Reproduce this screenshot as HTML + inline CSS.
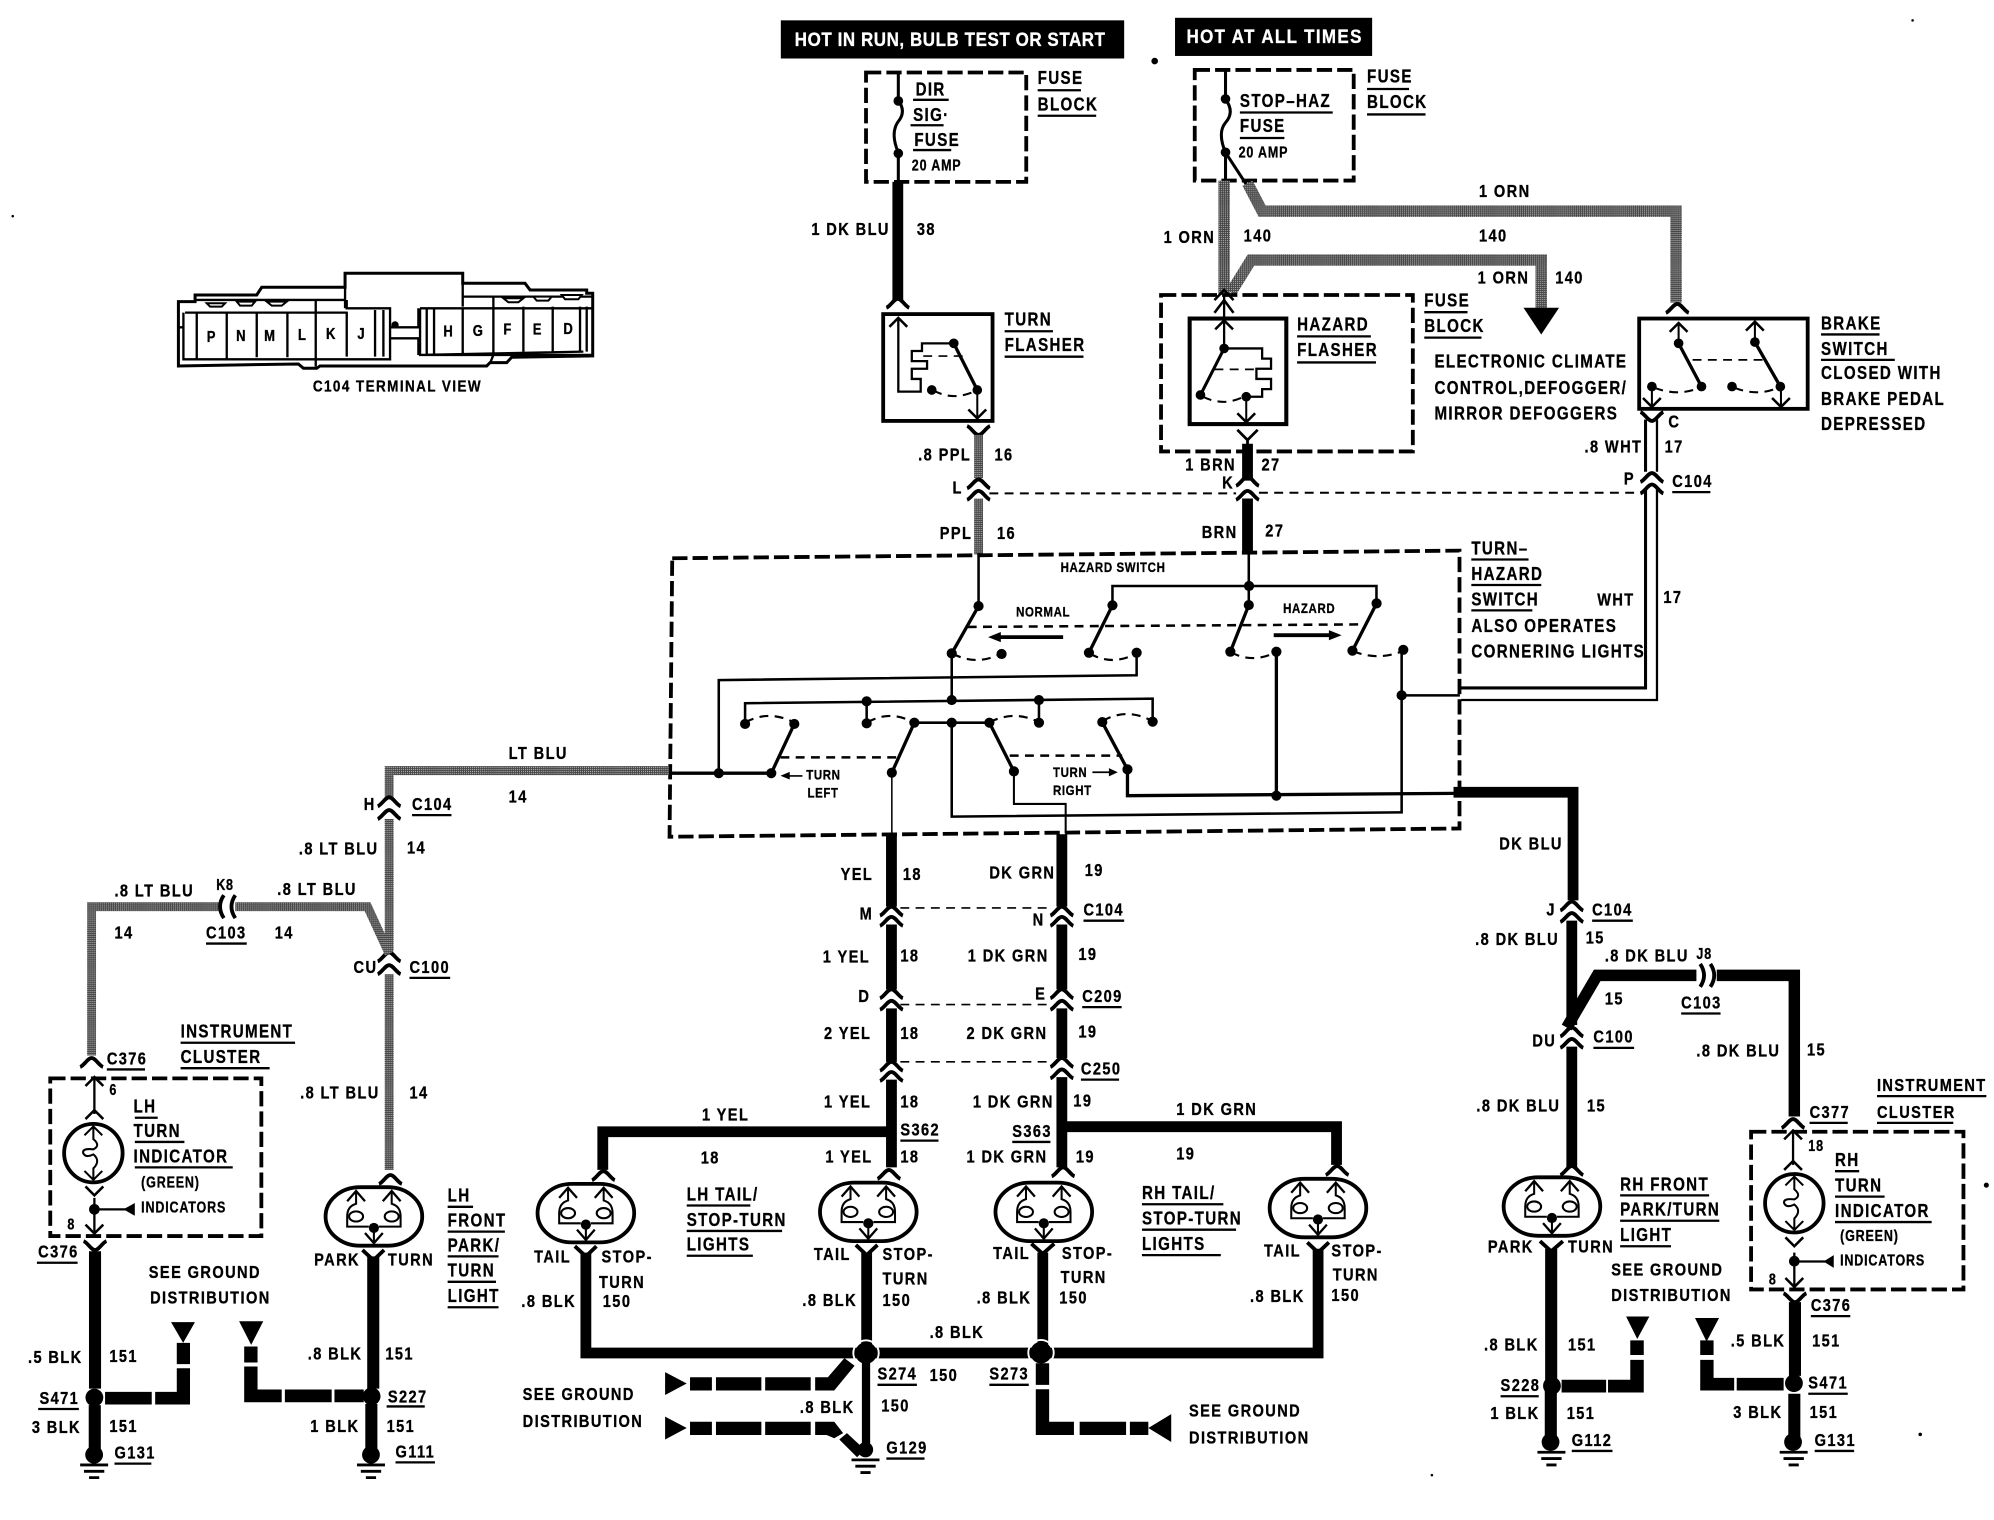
<!DOCTYPE html>
<html><head><meta charset="utf-8"><title>Turn and hazard wiring diagram</title>
<style>
html,body{margin:0;padding:0;background:#fff}
svg{display:block}
text{font-family:"Liberation Sans",sans-serif;font-weight:700;font-size:14.5px;letter-spacing:1.3px;fill:#000;stroke:#000;stroke-width:.25px;transform-box:fill-box;transform-origin:0 100%;transform:scaleX(.82)}
text.s{font-size:13.5px;transform:scaleX(.85)}
text.t{font-size:12px;letter-spacing:.8px}
text.n{font-size:11px;letter-spacing:.6px}
text.h{font-size:15px;letter-spacing:.5px;fill:#fff;stroke:#fff;transform:scaleX(.89)}
text.p{font-size:46px;letter-spacing:0;stroke-width:1px;transform:scaleX(.85)}
.th{fill:none;stroke:#000;stroke-width:1.8}
.b{fill:none;stroke:#000;stroke-width:2.4}
.d{fill:none;stroke:#000;stroke-width:2;stroke-dasharray:7 5}
.bx{fill:none;stroke:#000;stroke-width:3;stroke-dasharray:12 4}
.w{fill:none;stroke:#000;stroke-width:8.5}
.gw{fill:none;stroke:url(#g);stroke-width:7}
</style></head><body>
<svg xmlns="http://www.w3.org/2000/svg" width="1994" height="1520" viewBox="0 0 1568 1195.3">
<defs>
<pattern id="g" width="1.6" height="1.6" patternUnits="userSpaceOnUse"><rect width="1.6" height="1.6" fill="#444"/><rect width=".8" height=".8" fill="#bbb"/></pattern>
<path id="c" d="M-9,4C-6,3-3,-3 0,-3C3,-3 6,3 9,4" fill="none" stroke="#000" stroke-width="3"/>
<path id="u" d="M-9,-4C-6,-3-3,3 0,3C3,3 6,-3 9,-4" fill="none" stroke="#000" stroke-width="3"/>
<path id="au" d="M-7,7L0,0L7,7" fill="none" stroke="#000" stroke-width="2"/>
<path id="ad" d="M-7,-7L0,0L7,-7" fill="none" stroke="#000" stroke-width="2"/>
<g id="gnd"><path d="M-11,0H11M-8,5H8M-4,10H4" stroke="#000" stroke-width="2.2" fill="none"/></g>
<g id="lamp">
<rect x="-38" y="-23" width="76" height="46" rx="27" ry="23" fill="#fff" stroke="#000" stroke-width="3"/>
<path d="M-14,-19V-10Q-21,-8-21,0V8H-4M14,-19V-10Q21,-8 21,0V8H4M0,8V21" fill="none" stroke="#000" stroke-width="1.6"/>
<path d="M-21,-12L-14,-20L-7,-12M21,-12L14,-20L7,-12M-7,13L0,21L7,13" fill="none" stroke="#000" stroke-width="1.8"/>
<ellipse cx="-14" cy="0" rx="5.5" ry="4" fill="#fff" stroke="#000" stroke-width="1.6"/>
<ellipse cx="14" cy="0" rx="5.5" ry="4" fill="#fff" stroke="#000" stroke-width="1.6"/>
<circle cx="0" cy="9" r="4" fill="#000"/>
</g>
<g id="bulb">
<circle r="23" fill="#fff" stroke="#000" stroke-width="3"/>
<path d="M0,-21V-11Q6,-6 0,-3Q-9,-4-8,0Q-6,4 0,1Q6,6 0,12V21M-7,-14L0,-21L7,-14M-7,14L0,21L7,14" fill="none" stroke="#000" stroke-width="1.6"/>
</g>
</defs>

<rect width="1568" height="1195.3" fill="#fff"/>

<!-- header -->
<rect x="614" y="16" width="270" height="30" fill="#000"/>
<rect x="924" y="14" width="155" height="30" fill="#000"/>
<text class="h" x="625" y="36">HOT IN RUN, BULB TEST OR START</text>
<text class="h" x="933" y="34" style="letter-spacing:1.2px">HOT AT ALL TIMES</text>
<circle cx="908" cy="48" r="2.6"/>
<circle cx="1504" cy="16" r="1"/><circle cx="10" cy="170" r="1"/><circle cx="1562" cy="932" r="2"/><circle cx="1510" cy="1128" r="1.4"/><circle cx="1126" cy="1160" r="1"/>

<!-- terminal view -->
<g transform="translate(118,188.7) scale(.2621)">
<path d="M85,378V185H135V165H320L335,142H585V100H938V130H1125L1140,150H1310V160H1328V348L1085,352L1070,368H1020L1010,378H510L500,385H460L445,372Z" fill="#fff" stroke="#000" stroke-width="9"/>
<path d="M135,180H585M585,100V205M938,100V200M940,170H1328M100,218V358H720V205H590V180M105,218H590M810,205V345H1328M810,205H1328M810,345L1300,335M140,218V355M230,218V355M320,215V352M412,215V352M497,180V380M590,215V350M675,210V350M700,210V350M720,262H805V205M720,295H805V345M830,205V345M852,205V345M938,205V345M1030,170V345M1120,200V335M1208,200V335M1290,200V335M1310,200V335M85,262H100M1020,370L1030,345" fill="none" stroke="#000" stroke-width="7"/>
<path d="M170,190H225L215,200H180ZM260,185H315L305,197H270ZM350,185H410L395,197H365ZM1060,175H1120L1105,187H1075ZM1150,170H1205L1195,182H1160ZM1235,165H1295L1285,178H1245Z" fill="#fff" stroke="#000" stroke-width="6"/>
<circle cx="735" cy="255" r="11"/>
<text class="p" x="170" y="306">P</text><text class="p" x="258" y="303">N</text><text class="p" x="342" y="303">M</text><text class="p" x="444" y="300">L</text><text class="p" x="528" y="297">K</text><text class="p" x="622" y="297">J</text><text class="p" x="880" y="290">H</text><text class="p" x="968" y="288">G</text><text class="p" x="1060" y="284">F</text><text class="p" x="1148" y="284">E</text><text class="p" x="1240" y="282">D</text>
</g>
<text class="s" style="font-size:12.5px" x="246" y="308">C104 TERMINAL VIEW</text>

<!-- fuse blocks -->
<rect class="bx" x="681" y="57" width="126" height="86"/>
<path class="b" d="M706.4,57V79Q713,88 706,96Q700,105 706.4,120V145"/>
<circle cx="706.4" cy="79.4" r="3.8"/><circle cx="706.4" cy="120.6" r="3.8"/>
<text x="720" y="75">DIR</text><text x="718" y="95">SIG·</text><text x="719" y="115">FUSE</text><text class="t" x="717" y="134">20 AMP</text>
<text x="816" y="66">FUSE</text><text x="816" y="87">BLOCK</text>
<rect class="bx" x="939.5" y="55" width="125" height="87"/>
<path class="b" d="M963.7,55V78Q971,88 964,96Q957,104 963.7,120V142M963.7,120L982,148"/>
<circle cx="963.7" cy="77.8" r="3.8"/><circle cx="963.7" cy="119.8" r="3.8"/>
<text x="975" y="84">STOP–HAZ</text><text x="975" y="104">FUSE</text><text class="t" x="974" y="124">20 AMP</text>
<text x="1075" y="65">FUSE</text><text x="1075" y="85">BLOCK</text>

<!-- top wires -->
<path class="w" d="M706,143V236"/>
<path class="gw" style="stroke-width:9" d="M962.6,142V232"/>
<path class="gw" style="stroke-width:9" d="M981,144L992.5,166H1318V238"/>
<path class="gw" style="stroke-width:9" d="M967.9,230L983.7,204.5H1212V244"/>
<path d="M1198,242H1226L1212,263Z"/>
<use href="#c" x="706" y="238"/><use href="#c" x="1319" y="242"/>
<text class="s" x="638" y="185">1 DK BLU</text><text class="s" x="721" y="185">38</text>
<text class="s" x="915" y="191">1 ORN</text><text class="s" x="978" y="190">140</text>
<text class="s" x="1163" y="155">1 ORN</text><text class="s" x="1163" y="190">140</text>
<text class="s" x="1162" y="223">1 ORN</text><text class="s" x="1223" y="223">140</text>

<!-- turn flasher -->
<rect x="694.5" y="247" width="86" height="84" fill="#fff" stroke="#000" stroke-width="3"/>
<path class="b" style="stroke-width:1.8" d="M706.4,250V308H724V298H717V290H729V284H717V276H725V270H750"/>
<use href="#au" x="706.4" y="250"/>
<path d="M750,270L768.5,306.7" stroke="#000" stroke-width="2.6"/>
<circle cx="750" cy="270" r="3.8"/><circle cx="768.5" cy="306.7" r="3.8"/><circle cx="732.7" cy="306.7" r="3.8"/>
<path class="d" style="stroke-width:1.6" d="M734,307Q750,316 768,307"/>
<path class="d" style="stroke-width:1.2" d="M726,280H758"/>
<path class="b" style="stroke-width:1.6" d="M768.5,307V328"/><use href="#ad" x="768.5" y="329"/>
<use href="#u" x="769.5" y="339"/>
<text x="790" y="256">TURN</text><text x="790" y="276">FLASHER</text>

<!-- hazard flasher -->
<rect class="bx" x="913" y="232" width="198" height="123"/>
<rect x="935.5" y="250.5" width="76" height="83" fill="#fff" stroke="#000" stroke-width="3.2"/>
<path class="b" style="stroke-width:1.8" d="M962.6,232V274H992.5V282H999.5V290H988V298H999.5V306H992.5V312H980"/>
<path d="M955,246L962.6,236L970,246M955,236L962.6,228L970,236" fill="none" stroke="#000" stroke-width="2"/>
<use href="#au" x="962.6" y="252"/>
<path d="M962.6,274L944,310.6" stroke="#000" stroke-width="2.4"/>
<circle cx="962.6" cy="274" r="3.8"/><circle cx="980" cy="312" r="3.8"/><circle cx="944" cy="310.6" r="3.8"/>
<path class="d" style="stroke-width:1.6" d="M946,312Q962,320 978,312"/>
<path class="d" style="stroke-width:1.4" d="M955,290.5H988"/>
<path class="b" style="stroke-width:1.6" d="M980,312V331"/><use href="#ad" x="980" y="332"/>
<path d="M973,338L981,346L989,338M981,346V352" fill="none" stroke="#000" stroke-width="2.2"/>
<text x="1020" y="260">HAZARD</text><text x="1020" y="280">FLASHER</text>
<text x="1120" y="241">FUSE</text><text x="1120" y="261">BLOCK</text>
<text x="1128" y="289">ELECTRONIC CLIMATE</text><text x="1128" y="310">CONTROL,DEFOGGER/</text><text x="1128" y="330">MIRROR DEFOGGERS</text>

<!-- brake switch -->
<rect x="1289" y="250.5" width="132.5" height="71" fill="#fff" stroke="#000" stroke-width="3"/>
<path class="b" style="stroke-width:1.6" d="M1320,254V270M1380,254V269M1400.5,304V319M1299,304V320"/>
<use href="#au" x="1320" y="254"/><use href="#au" x="1380" y="253"/><use href="#ad" x="1400.5" y="320"/><use href="#ad" x="1299" y="320"/>
<path d="M1320,270L1338,304M1380,269L1400,304" stroke="#000" stroke-width="2.6"/>
<circle cx="1320" cy="270" r="3.8"/><circle cx="1380" cy="269" r="3.8"/><circle cx="1338" cy="304" r="3.8"/><circle cx="1400" cy="304" r="3.8"/><circle cx="1299" cy="304" r="3.8"/><circle cx="1362" cy="304" r="3.8"/>
<path class="d" style="stroke-width:1.6" d="M1301,305Q1320,312 1336,305M1364,305Q1382,312 1398,305"/>
<path class="d" style="stroke-width:1.4" d="M1331,283H1386"/>
<text x="1432" y="259">BRAKE</text><text x="1432" y="279">SWITCH</text><text x="1432" y="298">CLOSED WITH</text><text x="1432" y="318.5">BRAKE PEDAL</text><text x="1432" y="338">DEPRESSED</text>

<!-- C104 row -->
<path class="gw" d="M769.5,342V376M769.5,392V436"/>
<use href="#c" x="769.5" y="380"/><use href="#c" x="769.5" y="389"/>
<path class="w" d="M981,349V378M981,392V436"/>
<use href="#c" x="981" y="378"/><use href="#c" x="981" y="389"/>
<path class="d" style="stroke-width:1.6" d="M778,388H972M990,387.5H1292"/>
<path fill="none" stroke="#000" stroke-width="2.4" d="M1294,330V371M1294,385V541H1148"/>
<path fill="none" stroke="#000" stroke-width="1.8" d="M1303,330V371M1303,385V550.5H1149"/>
<use href="#u" x="1299" y="328"/><use href="#c" x="1299" y="375"/><use href="#c" x="1299" y="384"/>
<text class="s" x="722" y="362">.8 PPL</text><text class="s" x="782" y="362">16</text><text class="s" x="749" y="388">L</text>
<text class="s" x="739" y="424">PPL</text><text class="s" x="784" y="424">16</text>
<text class="s" x="932" y="370">1 BRN</text><text class="s" x="992" y="370">27</text><text class="s" x="961" y="384">K</text>
<text class="s" x="945" y="423">BRN</text><text class="s" x="995" y="422">27</text>
<text class="s" x="1312" y="336">C</text><text class="s" x="1246" y="356">.8 WHT</text><text class="s" x="1309" y="356">17</text><text class="s" x="1277" y="381">P</text><text class="s" x="1315" y="383">C104</text>
<text x="1157" y="436">TURN–</text><text x="1157" y="456">HAZARD</text><text x="1157" y="476">SWITCH</text><text x="1157" y="497">ALSO OPERATES</text><text x="1157" y="517">CORNERING LIGHTS</text>
<text class="s" x="1256" y="476">WHT</text><text class="s" x="1308" y="474">17</text>

<!-- hazard switch box -->
<path class="bx" d="M528.6,439L1147.7,433V651.5L526.5,658Z"/>
<text class="n" x="834" y="450">HAZARD SWITCH</text>
<text class="n" x="799" y="485">NORMAL</text><text class="n" x="1009" y="482">HAZARD</text>
<g fill="none" stroke="#000" stroke-width="2">
<path d="M769.5,435V476.6M874.8,476V460.8H1082.4V474.5M982,435V475.8"/>
<path d="M893.8,513.3V531L565.2,534.8V608"/>
<path d="M748.4,513.8V550.5M585.9,569.3V553L906.4,549.4V567.5M681.5,551.5V568.8M817,550.5V568.3"/>
<path d="M719,568.3H778"/>
<path d="M526.5,608H606.5" stroke-width="2.6"/>
<path d="M748.4,568.3V642.2L1102.2,638.8V511"/>
<path d="M1102.2,546.8H1148"/>
<path d="M886.6,605V625.7L1143.5,623.9M1003.7,512.5V625.7" stroke-width="2.6"/>
<path d="M797.3,606.6V632.2H838V655" stroke-width="1.6"/>
<path d="M701.3,607.6V656" stroke-width="1.2"/>
</g>
<g stroke="#000" stroke-width="2.6" fill="none">
<path d="M769.5,476.6L748.4,513.8M874.8,476L856.3,513.3M982,475.8L967.5,512.5M1082.5,474.5L1063.5,511.7"/>
<path d="M624.6,569.3L606.5,608M719,568.3L701.3,607.6M778,568.3L797.3,606.6M866.8,568L886.6,605"/>
</g>
<g>
<path class="d" style="stroke-width:1.7" d="M749,514Q768,524 787,514M857,514Q875,524 893,514M968,513Q985,522 1003,513M1064,512Q1083,520 1103,512"/>
<path class="d" style="stroke-width:1.7" d="M586,568Q605,558 624,568M682,568Q700,558 718,568M778,568Q798,558 817,568M867,567Q886,556 906,567"/>
<path class="d" d="M761,493L1072,491"/>
<path class="d" d="M613.7,595.6H705M794,594.2H882.4"/>
</g>
<g>
<circle cx="769.5" cy="476.6" r="4"/><circle cx="748.4" cy="513.8" r="4"/><circle cx="787.6" cy="514.3" r="4"/>
<circle cx="874.8" cy="476" r="4"/><circle cx="856.3" cy="513.3" r="4"/><circle cx="893.8" cy="513.3" r="4"/>
<circle cx="982.2" cy="460.8" r="4"/><circle cx="982" cy="475.8" r="4"/><circle cx="967.5" cy="512.5" r="4"/><circle cx="1003.7" cy="512.5" r="4"/>
<circle cx="1082.5" cy="474.5" r="4"/><circle cx="1063.5" cy="511.7" r="4"/><circle cx="1103.5" cy="511" r="4"/><circle cx="1102.2" cy="546.8" r="4"/>
<circle cx="748.4" cy="550.5" r="4"/><circle cx="681.5" cy="551.5" r="4"/><circle cx="817" cy="550.5" r="4"/>
<circle cx="585.9" cy="569.3" r="4"/><circle cx="624.6" cy="569.3" r="4"/><circle cx="681.5" cy="568.8" r="4"/><circle cx="719" cy="568.3" r="4"/><circle cx="748.4" cy="568.3" r="4"/><circle cx="778" cy="568.3" r="4"/><circle cx="817" cy="568.3" r="4"/><circle cx="866.8" cy="567.8" r="4"/><circle cx="906.4" cy="567.5" r="4"/>
<circle cx="565.2" cy="608" r="4"/><circle cx="606.5" cy="608" r="4"/><circle cx="701.3" cy="607.6" r="4"/><circle cx="797.3" cy="606.6" r="4"/><circle cx="886.6" cy="605" r="4"/><circle cx="1003.7" cy="625.7" r="4"/>
</g>
<path d="M836,499.5H787V497L777,501L787,505V502.5H836ZM1001.6,498H1045V495.5L1055,499.5L1045,503.5V501H1001.6Z"/>
<path d="M631,609.5H621V607L613.7,610L621,613V610.8H631ZM859,606.6H872V604L879,607.3L872,610.5V608H859Z"/>
<text class="n" x="634" y="613">TURN</text><text class="n" x="635" y="627">LEFT</text>
<text class="n" x="828" y="611">TURN</text><text class="n" x="828" y="625">RIGHT</text>

<!-- left LT BLU wiring -->
<path class="gw" d="M526,606H306V628M306,644V748M306,766V920"/>
<use href="#c" x="306" y="630"/><use href="#c" x="306" y="640"/>
<use href="#c" x="306" y="752"/><use href="#c" x="306" y="762"/>
<path class="gw" d="M72,830V713H172M185,713H289L306,750"/>
<path d="M176,704Q170,713 176,722M185,704Q179,713 185,722" fill="none" stroke="#000" stroke-width="3"/>
<use href="#c" x="72" y="835"/>
<text class="s" x="400" y="597">LT BLU</text><text class="s" x="400" y="631">14</text>
<text class="s" x="286" y="637">H</text><text class="s" x="324" y="637">C104</text>
<text class="s" x="235" y="672">.8 LT BLU</text><text class="s" x="320" y="671">14</text>
<text class="t" x="170" y="700">K8</text><text class="s" x="90" y="705">.8 LT BLU</text><text class="s" x="218" y="704">.8 LT BLU</text>
<text class="s" x="90" y="738">14</text><text class="s" x="162" y="738">C103</text><text class="s" x="216" y="738">14</text>
<text class="s" x="278" y="765">CU</text><text class="s" x="322" y="765">C100</text>
<text class="s" x="84" y="837">C376</text>
<text x="142" y="816">INSTRUMENT</text><text x="142" y="836">CLUSTER</text>
<text class="s" x="236" y="864">.8 LT BLU</text><text class="s" x="322" y="864">14</text>

<!-- LH indicator -->
<rect class="bx" x="39.5" y="848" width="166" height="124"/>
<path class="b" style="stroke-width:1.8" d="M74.2,848V876M74.2,942V970M74.2,951H104"/>
<use href="#au" x="74.2" y="847"/><use href="#au" x="74.2" y="873"/><use href="#ad" x="74.2" y="940"/><use href="#ad" x="74.2" y="970"/>
<use href="#bulb" x="73.4" y="906.8"/>
<circle cx="74.2" cy="951" r="4.2"/><path d="M106,946V956L97,951Z"/>
<text class="t" x="86" y="861">6</text><text class="t" x="53" y="967">8</text>
<text x="105" y="875">LH</text><text x="105" y="894">TURN</text><text x="105" y="914">INDICATOR</text>
<text class="t" x="111" y="934">(GREEN)</text><text class="t" x="111" y="953.5">INDICATORS</text>
<text class="s" x="30" y="989">C376</text>

<path class="w" style="stroke-width:9.5" d="M74.7,984V1092M74.5,1105V1140"/>
<use href="#u" x="74.7" y="980"/>
<circle cx="74.2" cy="1099" r="7"/><circle cx="74" cy="1144" r="7"/><use href="#gnd" x="74" y="1152"/>
<path d="M82.6,1094.5H119.3V1104.5H82.6ZM122,1094.5H149.4V1104.5H122ZM139,1076H149.4V1100H139ZM139,1056H149.4V1072.7H139ZM134.5,1039.7H153.3L144,1056Z"/>
<text class="s" x="22" y="1072">.5 BLK</text><text class="s" x="86" y="1071">151</text>
<text class="s" x="31" y="1104">S471</text>
<text class="s" x="25" y="1127">3 BLK</text><text class="s" x="86" y="1126">151</text>
<text class="s" x="90" y="1147">G131</text>
<text class="s" x="117" y="1005">SEE GROUND</text><text class="s" x="118" y="1025">DISTRIBUTION</text>

<!-- LH front lamp -->
<use href="#c" x="307" y="927"/>
<use href="#lamp" x="294" y="956.6"/>
<path d="M285,983L293.6,991L302,983" fill="none" stroke="#000" stroke-width="3"/>
<path class="w" style="stroke-width:9.5" d="M293.5,988V1092M292,1104V1140"/>
<circle cx="292.2" cy="1098" r="7"/><circle cx="291.7" cy="1144" r="7"/><use href="#gnd" x="291.7" y="1152"/>
<path d="M192,1092.7H221.5V1102.7H192ZM224,1092.7H260.8V1102.7H224ZM263,1092.7H286V1102.7H263ZM192,1074.6H202.5V1100H192ZM192,1058.9H202.5V1071.4H192ZM188,1039H207L197.5,1057.6Z"/>
<text class="s" x="247" y="995">PARK</text><text class="s" x="305" y="995">TURN</text>
<text x="352" y="945">LH</text><text x="352" y="964.5">FRONT</text><text x="352" y="984">PARK/</text><text x="352" y="1004">TURN</text><text x="352" y="1024">LIGHT</text>
<text class="s" x="242" y="1069">.8 BLK</text><text class="s" x="303" y="1069">151</text><text class="s" x="305" y="1103">S227</text>
<text class="s" x="244" y="1126">1 BLK</text><text class="s" x="304" y="1126">151</text><text class="s" x="311" y="1146">G111</text>

<!-- center harness -->
<path class="w" d="M701,656V713M701,727V778M701,793V835M701,849V918"/>
<path class="w" d="M835,656V713M835,727V778M835,793V832M835,847V918"/>
<use href="#c" x="701" y="716"/><use href="#c" x="701" y="724"/><use href="#c" x="701" y="781"/><use href="#c" x="701" y="790"/><use href="#c" x="701" y="838"/><use href="#c" x="701" y="846"/>
<use href="#c" x="835" y="716"/><use href="#c" x="835" y="724"/><use href="#c" x="835" y="781"/><use href="#c" x="835" y="790"/><use href="#c" x="835" y="835"/><use href="#c" x="835" y="844"/>
<path class="d" style="stroke-width:1.3" d="M708,714H826M708,790H826M708,835H826"/>
<text class="s" x="661" y="692">YEL</text><text class="s" x="710" y="692">18</text>
<text class="s" x="778" y="691">DK GRN</text><text class="s" x="853" y="689">19</text>
<text class="s" x="676" y="723">M</text><text class="s" x="812" y="728">N</text><text class="s" x="852" y="720">C104</text>
<text class="s" x="647" y="757">1 YEL</text><text class="s" x="708" y="756">18</text><text class="s" x="761" y="756">1 DK GRN</text><text class="s" x="848" y="755">19</text>
<text class="s" x="675" y="788">D</text><text class="s" x="814" y="786">E</text><text class="s" x="851" y="788">C209</text>
<text class="s" x="648" y="817">2 YEL</text><text class="s" x="708" y="817">18</text><text class="s" x="760" y="817">2 DK GRN</text><text class="s" x="848" y="816">19</text>
<text class="s" x="850" y="845">C250</text>
<text class="s" x="648" y="871">1 YEL</text><text class="s" x="708" y="871">18</text><text class="s" x="765" y="871">1 DK GRN</text><text class="s" x="844" y="870">19</text>
<text class="s" x="708" y="893">S362</text><text class="s" x="796" y="894">S363</text>
<text class="s" x="649" y="914">1 YEL</text><text class="s" x="708" y="914">18</text><text class="s" x="760" y="914">1 DK GRN</text><text class="s" x="846" y="914">19</text>
<path class="w" d="M701,890H474V920M835,886H1051V916"/>
<text class="s" x="552" y="881">1 YEL</text><text class="s" x="551" y="915">18</text>
<text class="s" x="925" y="877">1 DK GRN</text><text class="s" x="925" y="912">19</text>
<use href="#c" x="474.5" y="924"/><use href="#c" x="699" y="923"/><use href="#c" x="836" y="921"/><use href="#c" x="1051.5" y="920"/>

<!-- tail lamps -->
<use href="#lamp" x="460.7" y="954"/><use href="#lamp" x="682.8" y="953"/><use href="#lamp" x="820.8" y="953"/><use href="#lamp" x="1036.4" y="950"/>
<path d="M452,980L460.7,988L469,980M673,979L681.5,987L690,979M811,978L820,986L829,978M1028,977L1036.5,985L1045,977" fill="none" stroke="#000" stroke-width="3"/>
<path class="w" d="M460.7,985V1064H1036.5V982M681.5,985V1060M820,985V1060"/>
<circle cx="681" cy="1064" r="8.5"/><circle cx="818.6" cy="1063.7" r="8.5"/>
<circle cx="681" cy="1064" r="10" fill="none" stroke="#fff" stroke-width="1.5"/><circle cx="818.6" cy="1063.7" r="10" fill="none" stroke="#fff" stroke-width="1.5"/>
<text class="s" x="420" y="993">TAIL</text><text class="s" x="473" y="993">STOP-</text><text class="s" x="471" y="1013">TURN</text><text class="s" x="410" y="1028">.8 BLK</text><text class="s" x="474" y="1028">150</text>
<text class="s" x="640" y="991">TAIL</text><text class="s" x="694" y="991">STOP-</text><text class="s" x="694" y="1010">TURN</text><text class="s" x="631" y="1027">.8 BLK</text><text class="s" x="694" y="1027">150</text>
<text class="s" x="781" y="990">TAIL</text><text class="s" x="835" y="990">STOP-</text><text class="s" x="834" y="1009">TURN</text><text class="s" x="768" y="1025">.8 BLK</text><text class="s" x="833" y="1025">150</text>
<text class="s" x="994" y="988">TAIL</text><text class="s" x="1047" y="988">STOP-</text><text class="s" x="1048" y="1007">TURN</text><text class="s" x="983" y="1024">.8 BLK</text><text class="s" x="1047" y="1023">150</text>
<text x="540" y="944">LH TAIL/</text><text x="540" y="964">STOP-TURN</text><text x="540" y="983.5">LIGHTS</text>
<text x="898" y="943">RH TAIL/</text><text x="898" y="963">STOP-TURN</text><text x="898" y="983">LIGHTS</text>
<text class="s" x="731" y="1052">.8 BLK</text>

<!-- ground distribution centre -->
<path d="M681,1070V1140" stroke="#000" stroke-width="6.5" fill="none"/>
<circle cx="680.6" cy="1140" r="6"/><use href="#gnd" x="680.6" y="1148"/>
<path d="M523,1079L540,1088L523,1097ZM542.6,1083H559.8V1093.5H542.6ZM563,1083H598.7V1093.5H563ZM601.7,1083H637.5V1093.5H601.7ZM641,1083H651L664,1068L672,1074L656,1093.5H641Z"/>
<path d="M523,1114L540,1123L523,1132ZM542.6,1118H559.8V1128.5H542.6ZM563,1118H598.7V1128.5H563ZM601.7,1118H637.5V1128.5H601.7ZM641,1118H656L663,1127L656,1131L650,1128.5H641ZM660,1132L666,1127L680,1140L674,1146Z"/>
<path d="M814.5,1072H825V1089H814.5ZM814.5,1092.5H825V1128H814.5ZM814.5,1118H844.5V1128.5H814.5ZM849,1118H885.5V1128.5H849ZM888.5,1118H903V1128.5H888.5ZM903,1123L921,1112V1134Z"/>
<text class="s" x="690" y="1085">S274</text><text class="s" x="731" y="1086">150</text>
<text class="s" x="629" y="1111">.8 BLK</text><text class="s" x="693" y="1110">150</text>
<text class="s" x="697" y="1143">G129</text><text class="s" x="778" y="1085">S273</text>
<text class="s" x="411" y="1101">SEE GROUND</text><text class="s" x="411" y="1122">DISTRIBUTION</text>
<text class="s" x="935" y="1114">SEE GROUND</text><text class="s" x="935" y="1135">DISTRIBUTION</text>

<!-- right DK BLU -->
<path class="w" d="M1143,623H1237V708M1236,724V806"/>
<path class="w" style="stroke-width:9" d="M1232,808L1256,767H1334M1350,767H1411V878"/>
<path class="w" d="M1236,823V918"/>
<use href="#c" x="1236" y="712"/><use href="#c" x="1236" y="721"/><use href="#c" x="1236" y="811"/><use href="#c" x="1236" y="820"/>
<path d="M1337,758Q1343,767 1337,776M1345,758Q1351,767 1345,776" fill="none" stroke="#000" stroke-width="3"/>
<text class="s" x="1179" y="668">DK BLU</text><text class="s" x="1216" y="720">J</text><text class="s" x="1252" y="720">C104</text>
<text class="s" x="1160" y="743">.8 DK BLU</text><text class="s" x="1247" y="742">15</text>
<text class="s" x="1262" y="756">.8 DK BLU</text><text class="t" x="1334" y="754">J8</text>
<text class="s" x="1262" y="790">15</text><text class="s" x="1322" y="793">C103</text>
<text class="s" x="1205" y="823">DU</text><text class="s" x="1253" y="820">C100</text>
<text class="s" x="1334" y="831">.8 DK BLU</text><text class="s" x="1421" y="830">15</text>
<text class="s" x="1161" y="874">.8 DK BLU</text><text class="s" x="1248" y="874">15</text>
<use href="#c" x="1236" y="920"/>
<use href="#lamp" x="1220.4" y="948.8"/>
<path d="M1211,976L1219.8,984L1229,976" fill="none" stroke="#000" stroke-width="3"/>
<path class="w" style="stroke-width:9.5" d="M1219.8,982V1090M1219.5,1090V1130"/>
<circle cx="1220.4" cy="1089.8" r="7"/><circle cx="1219.3" cy="1134" r="7"/><use href="#gnd" x="1220" y="1142"/>
<path d="M1228,1085H1263V1095H1228ZM1264.5,1085H1292.6V1095H1264.5ZM1282,1069.4H1292.6V1094H1282ZM1282,1054H1292.6V1065.5H1282ZM1278.7,1035.3H1297L1287.5,1053Z"/>
<text class="s" x="1170" y="985">PARK</text><text class="s" x="1233" y="985">TURN</text>
<text x="1274" y="936">RH FRONT</text><text x="1274" y="956">PARK/TURN</text><text x="1274" y="976">LIGHT</text>
<text class="s" x="1267" y="1003">SEE GROUND</text><text class="s" x="1267" y="1023">DISTRIBUTION</text>
<text class="s" x="1167" y="1062">.8 BLK</text><text class="s" x="1233" y="1062">151</text><text class="s" x="1180" y="1094">S228</text>
<text class="s" x="1172" y="1116">1 BLK</text><text class="s" x="1232" y="1116">151</text><text class="s" x="1236" y="1137">G112</text>

<!-- RH indicator -->
<use href="#c" x="1410" y="883"/>
<rect class="bx" x="1377" y="890" width="167" height="124"/>
<path class="b" style="stroke-width:1.8" d="M1410,890V916M1411,985V1012M1411,992H1438"/>
<use href="#au" x="1410" y="889"/><use href="#au" x="1410" y="913"/><use href="#ad" x="1411" y="980"/><use href="#ad" x="1411" y="1012"/>
<use href="#bulb" x="1411" y="946.2"/>
<circle cx="1411" cy="991.8" r="4.2"/><path d="M1442,987V997L1434,992Z"/>
<text class="t" x="1422" y="905">18</text><text class="t" x="1391" y="1010">8</text>
<text x="1443" y="917">RH</text><text x="1443" y="937">TURN</text><text x="1443" y="957">INDICATOR</text>
<text class="t" x="1447" y="976">(GREEN)</text><text class="t" x="1447" y="995">INDICATORS</text>
<text class="s" x="1423" y="879">C377</text><text class="s" x="1476" y="858">INSTRUMENT</text><text class="s" x="1476" y="879">CLUSTER</text>
<use href="#u" x="1411.5" y="1021"/>
<path class="w" style="stroke-width:9.5" d="M1411.5,1024V1082M1411,1096V1130"/>
<circle cx="1410.7" cy="1087.7" r="7"/><circle cx="1410" cy="1134" r="7"/><use href="#gnd" x="1410.5" y="1142"/>
<path d="M1337,1083.5H1363.7V1093.5H1337ZM1365.7,1083.5H1402.6V1093.5H1365.7ZM1337,1069.4H1347.5V1090H1337ZM1337,1054H1347.5V1065.5H1337ZM1332.9,1036.5H1351.8L1342,1055Z"/>
<text class="s" x="1424" y="1031">C376</text><text class="s" x="1361" y="1059">.5 BLK</text><text class="s" x="1425" y="1059">151</text>
<text class="s" x="1422" y="1092">S471</text><text class="s" x="1363" y="1115">3 BLK</text><text class="s" x="1423" y="1115">151</text><text class="s" x="1427" y="1137">G131</text>

<!-- underlines -->
<path class="th" d="
M718,78.5H746M716,98.5H742M718,118H748M816,71H850M816,91H862
M975,88.5H1048M975,108.5H1010M1075,70H1108M1075,90H1121
M790,260.5H828M790,280.5H852M1020,264.5H1078M1020,285H1082M1120,245.5H1154M1120,265.5H1165
M1432,263H1478M1432,283H1490M1315,387H1345
M1157,440H1202M1157,460H1212M1157,480H1205
M324,641H355M162,742H194M84,841H114M142,820H232M142,840H212
M322,769H354M106,879H124M106,898H145M106,918H183M29,993H61
M30,1108H62M90,1151H119M352,949H372M352,968.5H397M352,988H392M352,1008H390M352,1028H392M304,1106H334M311,1150H342
M852,724H884M851,792H882M850,849H880M708,897H738M796,898H826
M540,948H590M540,968H615M540,987.5H592M898,947H962M898,967H972M898,987H960
M690,1089H721M778,1089H809M697,1147H727
M1252,724H1284M1322,797H1353M1253,824H1285
M1274,940H1344M1274,960H1352M1274,980H1314M1180,1098H1210M1236,1141H1268
M1423,883H1453M1476,862H1562M1476,883H1536M1443,921H1462M1443,941H1482M1443,961H1519
M1424,1035H1455M1422,1096H1453M1427,1141H1458"/>
</svg>
</body></html>
